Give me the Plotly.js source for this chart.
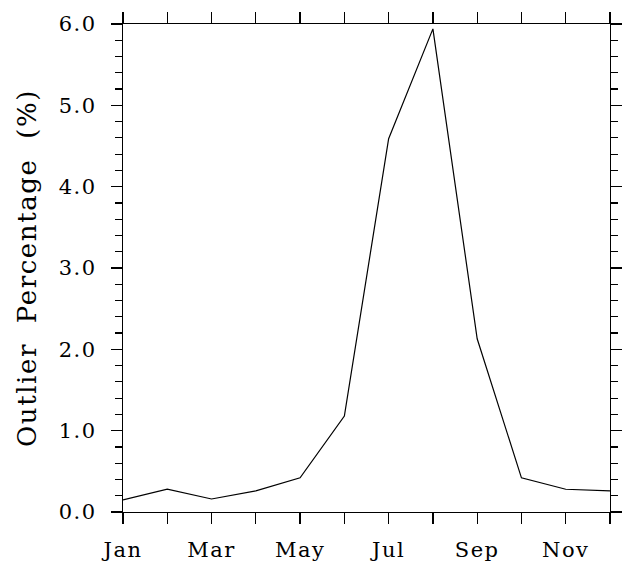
<!DOCTYPE html>
<html>
<head>
<meta charset="utf-8">
<script src="https://cdn.plot.ly/plotly-3.0.1.min.js"></script>
<style>
body{margin:0;padding:0;background:#fff}
.xtick text, .ytick text {letter-spacing:1.5px}
.ytitle {letter-spacing:1.6px}
</style>
</head>
<body>
<div id="chart" style="width:622px;height:561px"></div>
<script>
const months = ["Jan","Feb","Mar","Apr","May","Jun","Jul","Aug","Sep","Oct","Nov","Dec"];
const tickLabels = ["Jan","","Mar","","May","","Jul","","Sep","","Nov",""];
const outlierPct = [0.15, 0.28, 0.16, 0.26, 0.42, 1.18, 4.59, 5.94, 2.13, 0.42, 0.28, 0.26];
const yTickVals = [0, 1, 2, 3, 4, 5, 6];
const yTickText = ["0.0","1.0","2.0","3.0","4.0","5.0","6.0"];

const font = "DejaVu Serif";
const data = [{
  x: months, y: outlierPct, type: "scatter", mode: "lines",
  line: {color: "#000", width: 1.2}, hoverinfo: "skip"
}];
const layout = {
  width: 622, height: 561,
  margin: {l: 123, r: 12, t: 24, b: 49},
  paper_bgcolor: "#fff", plot_bgcolor: "#fff",
  showlegend: false,
  font: {family: font, color: "#000", size: 21},
  xaxis: {
    type: "category", range: [0, 11],
    tickmode: "array", tickvals: months, ticktext: tickLabels,
    ticks: "outside", ticklen: 11, tickwidth: 1.2, tickcolor: "#000",
    showline: true, linecolor: "#000", linewidth: 1.2, mirror: "ticks",
    showgrid: false, zeroline: false,
    ticklabelstandoff: 8,
    tickfont: {family: font, size: 21}
  },
  yaxis: {
    range: [0, 6],
    tickmode: "array", tickvals: yTickVals, ticktext: yTickText,
    ticks: "outside", ticklen: 11, tickwidth: 1.2, tickcolor: "#000",
    minor: {dtick: 0.2, ticks: "outside", ticklen: 7, tickwidth: 1.2, tickcolor: "#000", showgrid: false},
    showline: true, linecolor: "#000", linewidth: 1.2, mirror: "ticks",
    showgrid: false, zeroline: true, zerolinecolor: "#000", zerolinewidth: 2,
    ticklabelstandoff: 10,
    tickfont: {family: font, size: 21},
    title: {text: "Outlier  Percentage  (%)", font: {family: font, size: 26}, standoff: 14}
  }
};
Plotly.newPlot("chart", data, layout, {staticPlot: true, displayModeBar: false});
</script>
</body>
</html>
